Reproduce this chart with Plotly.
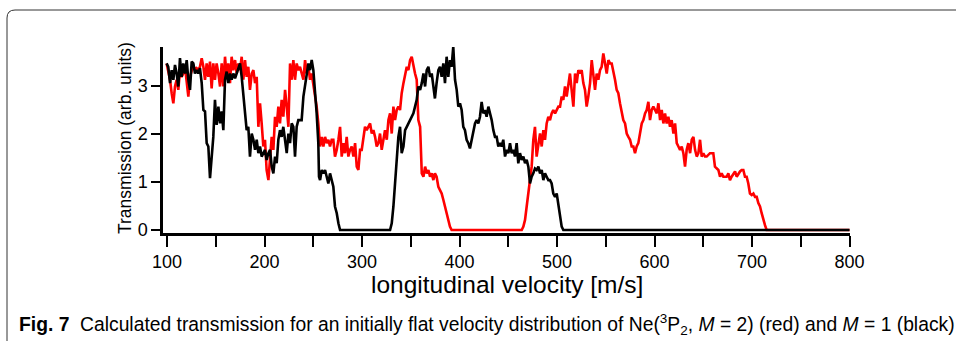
import plotly.graph_objects as go

# ---------------- data ----------------
velocity_black = [
    99.6, 101.3, 103.1, 104.8, 106.5, 108.2, 109.9, 111.6, 113.3, 115.0,
    116.7, 118.5, 120.2, 121.9, 123.6, 125.3, 127.0, 128.7, 130.4, 132.1,
    133.8, 135.6, 137.3, 139.0, 140.7, 142.4, 144.1, 145.8, 147.5, 149.2,
    150.9, 152.7, 154.4, 156.1, 157.8, 159.5, 161.2, 162.9, 164.6, 166.3,
    168.0, 169.8, 171.5, 173.2, 174.9, 176.6, 178.3, 180.0, 181.7, 183.4,
    185.1, 186.9, 188.6, 190.3, 192.0, 193.7, 195.4, 197.1, 198.8, 200.5,
    202.2, 204.0, 205.7, 207.4, 209.1, 210.8, 212.5, 214.2, 215.9, 217.6,
    219.3, 221.1, 222.8, 224.5, 226.2, 227.9, 229.6, 231.3, 233.0, 234.7,
    238.1, 239.9, 241.6, 243.3, 245.0, 246.7, 248.4, 250.1, 251.8, 253.5, 255.2,
    255.9,
    257.0, 258.7, 260.4, 262.1, 263.8, 265.5, 267.2, 268.9, 270.6, 272.3, 274.1, 275.8, 277.5,
    328.8,
    330.5, 332.2, 333.9, 335.6, 337.3, 339.0, 340.7, 342.5, 344.2, 345.9,
    347.6, 349.3, 351.0, 352.7, 354.4, 356.1, 357.8, 359.6, 361.3, 363.0,
    364.7, 366.4, 368.1, 369.8, 371.5, 373.2,
    374.8, 376.5, 378.3, 380.0, 381.7, 383.4, 385.1, 386.8, 388.5, 390.2,
    391.9, 393.6, 395.4, 397.1, 398.8, 400.5, 402.2, 403.9, 405.6, 407.3,
    409.0, 410.7, 412.5, 414.2, 415.9, 417.6, 419.3, 421.0, 422.7, 424.4,
    426.1, 427.8, 429.6, 431.3, 433.0, 434.7, 436.4, 438.1, 439.8, 441.5,
    443.2, 444.9, 446.7, 448.4, 450.1, 451.8, 453.5, 455.2, 456.9, 458.6,
    460.3, 462.0, 463.8, 465.5, 467.2, 468.9, 470.6, 472.3, 474.0, 475.7,
    477.4, 479.1, 480.9, 482.6, 484.3, 486.0, 487.7, 489.4, 491.1, 492.8,
    494.5, 496.2, 498.0, 499.7, 501.4, 503.1, 504.8, 506.5,
    800.0,
]
transmission_black = [
    3.47, 3.40, 3.06, 3.33, 3.13, 3.44, 3.26, 2.99, 3.58, 3.19,
    3.47, 3.26, 3.54, 3.13, 2.92, 3.51, 3.47, 3.26, 3.33, 3.26,
    3.37, 3.06, 2.50, 2.47, 1.81, 1.74, 1.08, 1.60, 1.94, 2.71,
    2.19, 2.57, 2.22, 2.47, 2.08, 3.13, 3.30, 3.06, 3.26, 3.13,
    3.26, 3.16, 3.26, 3.33, 3.47, 3.19, 2.85, 2.36, 2.08, 2.15,
    1.53, 2.01, 1.88, 1.67, 1.88, 1.60, 1.74, 1.53, 1.60, 1.67,
    1.46, 1.60, 1.67, 1.32, 1.18, 1.53, 1.39, 1.88, 2.08, 1.94,
    2.15, 1.88, 1.60, 2.01, 1.81, 2.22, 2.15, 1.53, 2.15, 2.29,
    2.29, 2.78, 2.99, 3.26, 3.47, 3.33, 3.54, 3.33, 2.92, 2.43, 1.81,
    1.11,
    1.04, 1.25, 1.18, 1.25, 1.11, 0.97, 1.18, 1.04, 0.90, 0.49, 0.35, 0.14, 0.0,
    0.0,
    0.14, 0.49, 0.97, 1.32, 1.94, 2.15, 1.60, 1.74, 2.08, 2.15,
    2.22, 2.29, 2.36, 2.43, 2.57, 2.71, 2.99, 2.92, 3.06, 3.26,
    2.99, 3.33, 3.40, 3.19, 3.26, 2.99,
    2.74, 3.06, 3.33, 3.40, 3.19, 3.47, 3.06, 3.61, 3.19, 3.54,
    3.40, 3.82, 3.13, 2.92, 2.57, 2.64, 2.50, 2.15, 2.08, 1.88,
    1.81, 1.70, 1.88, 2.01, 2.22, 2.29, 2.22, 2.36, 2.67, 2.43,
    2.50, 2.36, 2.57, 2.43, 2.29, 2.08, 1.94, 1.94, 1.74, 1.81,
    1.74, 1.88, 1.53, 1.67, 1.60, 1.81, 1.60, 1.67, 1.53, 1.81,
    1.39, 1.60, 1.46, 1.53, 1.39, 1.46, 1.32, 0.97, 1.11, 1.18,
    1.28, 1.25, 1.32, 1.18, 1.25, 1.04, 1.18, 1.11, 1.04, 1.04,
    0.97, 0.76, 0.69, 0.76, 0.49, 0.28, 0.07, 0.0,
    0.0,
]

velocity_red = [
    99.6,
    103.1, 104.8, 106.5, 108.2, 109.9, 111.6, 113.3, 115.0, 116.7, 118.5,
    120.2, 121.9, 123.6, 125.3, 127.0, 128.7, 130.4, 132.1, 133.8, 135.6,
    137.3, 139.0, 140.7, 142.4, 144.1, 145.8, 147.5, 149.2, 150.9, 152.7,
    154.4, 156.1, 157.8, 159.5, 161.2, 162.9, 164.6, 166.3, 168.0, 169.8,
    171.5, 173.2, 174.9, 176.6, 178.3, 180.0, 181.7, 183.4, 185.1, 186.9,
    188.6, 190.3, 192.0, 193.7, 195.4, 197.1, 198.8, 200.5, 202.2, 204.0,
    205.7, 207.4, 209.1, 210.8, 212.5, 214.2, 215.9, 217.6, 219.3, 221.1,
    222.8, 224.5, 226.2, 227.9, 229.6, 231.3, 233.0, 234.7,
    236.4, 238.1, 239.9, 241.6, 243.3, 245.0, 246.7, 248.4, 250.1, 251.8,
    253.5, 255.2, 257.0, 258.7, 260.4, 262.1, 263.8, 265.5, 267.2, 268.9,
    270.6, 272.3, 274.1, 275.8, 277.5, 279.2, 280.9, 282.6, 284.3, 286.0,
    287.7, 289.4, 291.2, 292.9, 294.6, 296.3, 298.0, 299.7, 301.4, 303.1,
    304.8, 306.5, 308.3, 310.0, 311.7, 313.4, 315.1, 316.8, 318.5, 320.2,
    321.9, 323.6, 325.4, 327.1, 328.8, 330.5, 332.2, 333.9, 335.6, 337.3,
    339.0, 340.7, 342.5, 344.2, 345.9, 347.6, 349.3, 351.0, 352.7, 354.4,
    356.1, 357.8, 359.6, 361.3, 363.0, 364.7, 366.4, 368.1, 369.8, 371.5,
    373.2,
    374.8, 376.5, 378.3, 380.0, 381.7, 383.4, 385.1, 386.8, 388.5, 390.2,
    391.9, 463.8,
    465.5, 467.2, 468.9, 470.6, 472.3, 474.0, 475.7, 477.4, 479.1, 480.9,
    482.6, 484.3, 486.0, 487.7, 489.4, 491.1, 492.8, 494.5, 496.2, 498.0,
    499.7, 501.4, 503.1, 504.8, 506.5, 508.2, 509.9, 511.6, 513.3,
    515.0, 516.8, 518.5, 520.2, 521.9, 523.6, 525.3, 527.0, 528.7, 530.4,
    532.1, 533.9, 535.6, 537.3, 539.0, 540.7, 542.4, 544.1, 545.8, 547.5,
    549.2, 551.0, 552.7, 554.4, 556.1, 557.8, 559.5, 561.2, 562.9, 564.6,
    566.3, 568.0, 569.8, 571.5, 573.2, 574.9, 576.6, 578.3, 580.0, 581.7,
    583.4, 585.2, 586.9, 588.6, 590.3, 592.0, 593.7, 595.4, 597.1, 598.8,
    600.5, 602.3, 604.0, 605.7, 607.4, 609.1, 610.8, 612.5, 614.2, 615.9,
    617.6, 619.4, 621.1, 622.8, 624.5, 626.2, 627.9, 629.6, 631.3, 633.0,
    634.7, 636.5, 638.2, 639.9, 641.6, 643.3, 645.0, 646.7, 648.4, 650.1,
    651.8,
    653.5, 656.9, 660.3, 662.0, 665.5, 667.2, 668.9, 670.6, 674.0, 675.7,
    677.4, 679.1, 680.8, 682.6, 684.3, 686.0, 687.7, 689.4, 691.1, 692.8,
    694.5, 696.2, 697.9, 699.7, 701.4, 703.1, 704.8, 706.5, 708.2, 709.9,
    711.6, 713.3, 715.0, 800.0,
]
transmission_red = [
    3.47,
    3.13, 2.85, 2.64, 2.99, 3.13, 2.92, 3.33, 3.19, 3.26, 3.40,
    3.06, 2.78, 3.19, 3.33, 3.44, 3.33, 3.37, 3.33, 3.40, 3.58,
    3.40, 3.13, 3.47, 3.19, 3.51, 2.95, 3.47, 3.13, 3.47, 3.26,
    2.99, 3.47, 2.99, 3.61, 3.19, 3.47, 3.06, 3.61, 3.33, 3.54,
    3.26, 3.47, 3.33, 3.61, 3.13, 3.54, 3.19, 3.40, 2.92, 3.26,
    3.33, 3.06, 3.19, 2.15, 2.64, 2.22, 1.74, 1.88, 1.25, 1.04,
    1.46, 1.94, 1.67, 2.36, 2.15, 2.57, 2.22, 2.71, 2.36, 2.92,
    2.57, 2.15, 3.47, 3.13, 3.54, 3.13, 3.47, 3.33,
    3.40, 3.26, 3.13, 3.54, 3.26, 3.40, 3.13, 3.26, 3.06, 2.78,
    2.57, 2.22, 1.74, 1.94, 1.74, 1.94, 1.81, 1.88, 1.74, 1.88,
    1.88, 1.53, 1.67, 1.88, 2.15, 1.53, 1.81, 1.60, 1.94, 1.53,
    1.67, 1.74, 1.53, 1.81, 1.32, 1.25, 1.67, 1.67, 1.88, 2.15,
    2.08, 2.15, 2.22, 2.01, 2.08, 1.94, 1.74, 1.81, 2.01, 1.67,
    1.88, 2.08, 1.88, 2.29, 2.43, 2.01, 2.57, 2.29, 2.50, 2.57,
    2.50, 2.85, 3.06, 3.26, 3.40, 3.33, 3.54, 3.61, 3.40, 3.26,
    3.13, 2.29, 2.15, 1.18, 1.11, 1.32, 1.18, 1.25, 1.11, 1.18,
    1.04,
    1.18, 1.11, 0.90, 0.83, 0.76, 0.63, 0.49, 0.35, 0.21, 0.07,
    0.0, 0.0,
    0.07, 0.21, 0.49, 0.76, 1.04, 1.32, 1.88, 2.15, 1.53, 1.81,
    2.01, 1.74, 2.08, 1.88, 2.22, 2.36, 2.29, 2.43, 2.50, 2.43,
    2.50, 2.57, 2.57, 2.78, 2.71, 2.99, 2.78, 3.06, 3.26,
    2.92, 2.57, 3.26, 3.06, 3.33, 3.26, 3.33, 3.06, 2.92, 2.57,
    2.78, 3.06, 3.54, 3.26, 2.92, 3.26, 3.13, 3.33, 3.40, 3.68,
    3.47, 3.26, 3.54, 3.47, 3.47, 3.33, 3.13, 2.92, 2.85, 2.64,
    2.43, 2.29, 2.22, 2.01, 1.94, 1.88, 1.74, 1.74, 1.60, 1.74,
    1.81, 2.01, 2.22, 2.29, 2.43, 2.50, 2.67, 2.29, 2.50, 2.57,
    2.50, 2.43, 2.64, 2.29, 2.50, 2.22, 2.43, 2.22, 2.36, 2.15,
    2.29, 2.01, 2.22, 1.81, 1.74, 1.67, 1.74, 1.60, 1.32, 1.67,
    1.81, 1.60, 1.88, 1.94, 1.67, 1.53, 1.60, 1.88, 1.53, 1.60,
    1.53,
    1.53, 1.60, 1.60, 1.32, 1.25, 1.11, 1.18, 1.11, 1.11, 1.18,
    1.04, 1.11, 1.18, 1.22, 1.11, 1.18, 1.22, 1.25, 1.25, 1.11,
    1.11, 0.97, 0.76, 0.73, 0.76, 0.69, 0.69, 0.56, 0.49, 0.35,
    0.21, 0.10, 0.0, 0.0,
]

x_tick_values = [100, 200, 300, 400, 500, 600, 700, 800]
x_tick_labels = ["100", "200", "300", "400", "500", "600", "700", "800"]
x_minor_tick_values = [150, 250, 350, 450, 550, 650, 750]
y_tick_values = [0, 1, 2, 3]
y_tick_labels = ["0", "1", "2", "3"]

x_title = "longitudinal velocity [m/s]"
y_title = "Transmission (arb. units)"
caption = ("<b>Fig. 7</b>  Calculated transmission for an initially flat velocity distribution of "
           "Ne(<sup>3</sup>P<sub>2</sub>, <i>M</i> = 2) (red) and <i>M</i> = 1 (black)")

# ---------------- figure ----------------
W, H = 956, 341
L, R, T, B = 163, 106, 47, 108
PW, PH = W - L - R, H - T - B


def px(xp):
    return (xp - L) / PW


def py(yp):
    return (H - B - yp) / PH


AX_FONT = "Liberation Sans, Arial, Helvetica, sans-serif"

fig = go.Figure()
fig.add_trace(go.Scatter(x=velocity_red, y=transmission_red, mode="lines",
                         line=dict(color="#ff0000", width=2.6), hoverinfo="skip"))
fig.add_trace(go.Scatter(x=velocity_black, y=transmission_black, mode="lines",
                         line=dict(color="#000000", width=2.6), hoverinfo="skip"))

fig.update_layout(
    width=W, height=H,
    margin=dict(l=L, r=R, t=T, b=B, pad=0),
    paper_bgcolor="white", plot_bgcolor="white",
    showlegend=False,
    font=dict(family=AX_FONT, color="black"),
    xaxis=dict(range=[95.9, 800.5], showgrid=False, zeroline=False,
               showline=True, linecolor="black", linewidth=2.5,
               ticks="outside", ticklen=11, tickwidth=2, tickcolor="black",
               tickmode="array", tickvals=x_tick_values, ticktext=x_tick_labels,
               minor=dict(tickmode="array", tickvals=x_minor_tick_values,
                          ticks="outside", ticklen=11, tickwidth=2,
                          tickcolor="black", showgrid=False),
               tickfont=dict(size=18, family=AX_FONT, color="black")),
    yaxis=dict(range=[-0.0625, 3.8125], showgrid=False, zeroline=False,
               showline=True, linecolor="black", linewidth=2.5,
               ticks="outside", ticklen=9, tickwidth=2, tickcolor="black",
               tickmode="array", tickvals=y_tick_values, ticktext=y_tick_labels,
               tickfont=dict(size=18, family=AX_FONT, color="black")),
)

fig.add_annotation(text=x_title, xref="paper", yref="paper",
                   x=px(506.5), y=py(284), xanchor="center", yanchor="middle",
                   showarrow=False, font=dict(size=24.5, family=AX_FONT, color="black"))
fig.add_annotation(text=y_title, xref="paper", yref="paper",
                   x=px(125), y=py(138), xanchor="center", yanchor="middle",
                   textangle=-90, showarrow=False,
                   font=dict(size=17.5, family=AX_FONT, color="black"))
fig.add_annotation(text=caption, xref="paper", yref="paper",
                   x=px(17), y=py(324), xanchor="left", yanchor="middle",
                   showarrow=False,
                   font=dict(size=19.3, family=AX_FONT, color="black"))

# rounded frame around figure + caption
r = 8
fx0, fy0 = px(7), py(10)
fx1, fy1 = px(962), py(346)
dx, dy = r / PW, r / PH
path = (f"M {fx0},{fy1} L {fx0},{fy0 - dy} Q {fx0},{fy0} {fx0 + dx},{fy0} L {fx1},{fy0}")
fig.add_shape(type="path", path=path, xref="paper", yref="paper",
              line=dict(color="#333333", width=1))

fig.write_html("out.html")
